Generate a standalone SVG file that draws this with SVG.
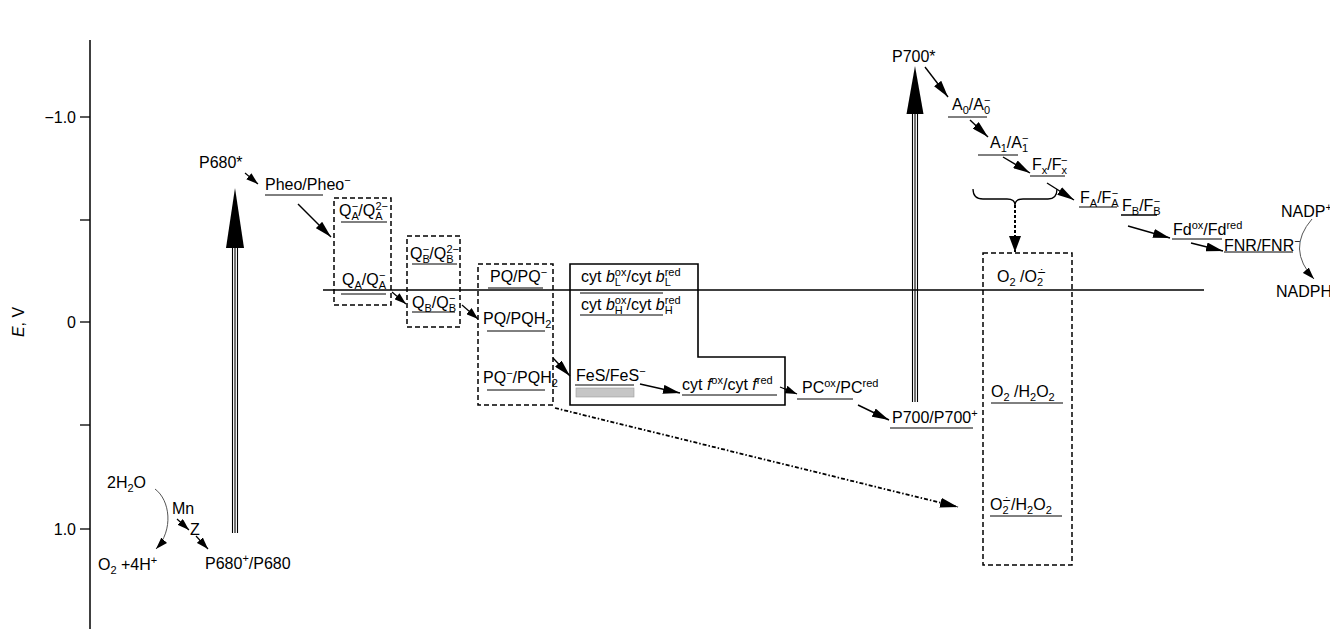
<svg xmlns="http://www.w3.org/2000/svg" width="1330" height="629" viewBox="0 0 1330 629">
<defs>
<style>
text{font-family:"Liberation Sans",Arial,sans-serif;font-size:16px;fill:#000}
.s{font-size:11px}
.ul{stroke:#000;stroke-width:1;fill:none}
.ar{stroke:#000;stroke-width:1.4;fill:none;marker-end:url(#ah)}
.ars{stroke:#000;stroke-width:1.2;fill:none;marker-end:url(#ahs)}
.db{fill:none;stroke:#000;stroke-width:1.5;stroke-dasharray:5 3}
.tri{stroke:#000;stroke-width:1.1}
</style>
<marker id="ah" viewBox="0 0 17 9" refX="17" refY="4.5" markerWidth="17" markerHeight="9" orient="auto" markerUnits="userSpaceOnUse"><path d="M0,0 L17,4.5 L0,9 Z" fill="#000"/></marker>
<marker id="ahs" viewBox="0 0 12 8" refX="12" refY="4" markerWidth="12" markerHeight="8" orient="auto" markerUnits="userSpaceOnUse"><path d="M0,0 L12,4 L0,8 Z" fill="#000"/></marker>
<marker id="ahd" viewBox="0 0 18 10" refX="18" refY="5" markerWidth="18" markerHeight="10" orient="auto" markerUnits="userSpaceOnUse"><path d="M0,0 L18,5 L0,10 Z" fill="#000"/></marker>
<marker id="ahv" viewBox="0 0 16 12" refX="16" refY="6" markerWidth="16" markerHeight="12" orient="auto" markerUnits="userSpaceOnUse"><path d="M0,0 L16,6 L0,12 Z" fill="#000"/></marker>
</defs>
<rect width="1330" height="629" fill="#fff"/>

<g id="axis">
<line x1="90" y1="40" x2="90" y2="629" stroke="#000" stroke-width="1.5"/>
<g stroke="#000" stroke-width="1.3">
<line x1="80" y1="117" x2="90" y2="117"/>
<line x1="80" y1="220" x2="90" y2="220"/>
<line x1="80" y1="322" x2="90" y2="322"/>
<line x1="80" y1="425" x2="90" y2="425"/>
<line x1="80" y1="529" x2="90" y2="529"/>
</g>
<text x="76" y="123" text-anchor="end" font-size="17">−1.0</text>
<text x="76" y="328" text-anchor="end" font-size="17">0</text>
<text x="76" y="535" text-anchor="end" font-size="17">1.0</text>
<text transform="translate(24,322) rotate(-90)" text-anchor="middle" font-size="17"><tspan font-style="italic">E</tspan>, V</text>
</g>

<g id="midline"><line x1="323" y1="290" x2="1204" y2="290" stroke="#000" stroke-width="1.5"/></g>

<g id="p680-light">
<g class="tri"><line x1="232.5" y1="246" x2="232.5" y2="533"/><line x1="235" y1="246" x2="235" y2="533"/><line x1="237.5" y1="246" x2="237.5" y2="533"/></g>
<polygon points="235,188 226,248 244,248" fill="#000"/>
</g>
<g id="p700-light">
<g class="tri"><line x1="912.5" y1="112" x2="912.5" y2="402"/><line x1="915" y1="112" x2="915" y2="402"/><line x1="917.5" y1="112" x2="917.5" y2="402"/></g>
<polygon points="915,66 906.5,114 923.5,114" fill="#000"/>
</g>

<g id="p680star"><text x="199" y="168" font-size="18">P680*</text></g>
<g id="pheo"><text x="265" y="190" font-size="17">Pheo/Pheo<tspan class="s" dy="-6">−</tspan></text><line class="ul" x1="265" y1="195" x2="323" y2="195"/></g>

<g id="qa">
<rect class="db" x="334" y="198" width="57" height="107"/>
<text x="339" y="216" font-size="15">Q<tspan class="s" dy="4">A</tspan><tspan class="s" dx="-7" dy="-10">−</tspan><tspan dy="6">/Q</tspan><tspan class="s" dy="4">A</tspan><tspan class="s" dx="-7" dy="-10">2−</tspan></text>
<line class="ul" x1="341" y1="222" x2="387" y2="222"/>
<text x="342" y="285" font-size="15">Q<tspan class="s" dy="4">A</tspan><tspan dy="-4">/Q</tspan><tspan class="s" dy="4">A</tspan><tspan class="s" dx="-7" dy="-10">−</tspan></text>
<line class="ul" x1="341" y1="294" x2="386" y2="294"/>
</g>

<g id="qb">
<rect class="db" x="407" y="236" width="53" height="91" stroke-width="2.2"/>
<text x="410" y="259" font-size="15">Q<tspan class="s" dy="4">B</tspan><tspan class="s" dx="-7" dy="-10">−</tspan><tspan dy="6">/Q</tspan><tspan class="s" dy="4">B</tspan><tspan class="s" dx="-7" dy="-10">2−</tspan></text>
<line class="ul" x1="412" y1="264" x2="457" y2="264"/>
<text x="412" y="308" font-size="15">Q<tspan class="s" dy="4">B</tspan><tspan dy="-4">/Q</tspan><tspan class="s" dy="4">B</tspan><tspan class="s" dx="-7" dy="-10">−</tspan></text>
<line class="ul" x1="412" y1="312" x2="455" y2="312"/>
</g>

<g id="pq">
<rect class="db" x="478" y="264" width="75" height="141"/>
<text x="490" y="282" font-size="15">PQ/PQ<tspan class="s" dy="-6">−</tspan></text>
<line class="ul" x1="488" y1="288" x2="543" y2="288"/>
<text x="483" y="324" font-size="15">PQ/PQH<tspan class="s" dy="4">2</tspan></text>
<line class="ul" x1="487" y1="331" x2="545" y2="331"/>
<text x="483" y="383" font-size="15">PQ<tspan class="s" dy="-6">−</tspan><tspan dy="6">/PQH</tspan><tspan class="s" dy="4">2</tspan></text>
<line class="ul" x1="487" y1="390" x2="545" y2="390"/>
</g>

<g id="cytb6f">
<path d="M570,264 H698 V357 H785 V405 H570 Z" fill="none" stroke="#000" stroke-width="1.6"/>
<text x="581" y="282" font-size="16">cyt <tspan font-style="italic">b</tspan><tspan class="s" dy="-6">ox</tspan><tspan class="s" dx="-11.6" dy="10">L</tspan><tspan dx="5.5" dy="-4">/cyt </tspan><tspan font-style="italic">b</tspan><tspan class="s" dy="-6">red</tspan><tspan class="s" dx="-15.9" dy="10">L</tspan></text>
<line class="ul" x1="580" y1="293" x2="663" y2="293"/>
<text x="581" y="310" font-size="16">cyt <tspan font-style="italic">b</tspan><tspan class="s" dy="-6">ox</tspan><tspan class="s" dx="-11.6" dy="10">H</tspan><tspan dx="3.7" dy="-4">/cyt </tspan><tspan font-style="italic">b</tspan><tspan class="s" dy="-6">red</tspan><tspan class="s" dx="-15.9" dy="10">H</tspan></text>
<line class="ul" x1="580" y1="315" x2="663" y2="315"/>
<text x="576" y="381" font-size="15">FeS/FeS<tspan class="s" dy="-6">−</tspan></text>
<line class="ul" x1="575" y1="385" x2="634" y2="385"/>
<rect x="576" y="388" width="58" height="9" fill="#c6c6c6" stroke="#9a9a9a" stroke-width="0.6"/>
<text x="682" y="390" font-size="17">cyt <tspan font-style="italic">f</tspan><tspan class="s" dy="-6">ox</tspan><tspan dy="6">/cyt </tspan><tspan font-style="italic">f</tspan><tspan class="s" dy="-6">red</tspan></text>
<line class="ul" x1="682" y1="395" x2="777" y2="395"/>
</g>

<g id="pc"><text x="802" y="393" font-size="16">PC<tspan class="s" dy="-6">ox</tspan><tspan dy="6">/PC</tspan><tspan class="s" dy="-6">red</tspan></text><line class="ul" x1="797" y1="399" x2="853" y2="399"/></g>
<g id="p700"><text x="892" y="423" font-size="15">P700/P700<tspan class="s" dy="-6">+</tspan></text><line class="ul" x1="890" y1="428" x2="973" y2="428"/></g>
<g id="p700star"><text x="892" y="62" font-size="18">P700*</text></g>
<g id="a0"><text x="952" y="110" font-size="15">A<tspan class="s" dy="4">0</tspan><tspan dy="-4">/A</tspan><tspan class="s" dy="4">0</tspan><tspan class="s" dx="-6" dy="-10">−</tspan></text><line class="ul" x1="948" y1="117" x2="987" y2="117"/></g>
<g id="a1"><text x="990" y="148" font-size="15">A<tspan class="s" dy="4">1</tspan><tspan dy="-4">/A</tspan><tspan class="s" dy="4">1</tspan><tspan class="s" dx="-6" dy="-10">−</tspan></text><line class="ul" x1="978" y1="155" x2="1018" y2="155"/></g>
<g id="fx"><text x="1032" y="170" font-size="15">F<tspan class="s" dy="4">x</tspan><tspan dy="-4">/F</tspan><tspan class="s" dy="4">x</tspan><tspan class="s" dx="-6" dy="-10">−</tspan></text><line class="ul" x1="1030" y1="176" x2="1065" y2="176"/></g>
<g id="fa"><text x="1080" y="203" font-size="15">F<tspan class="s" dy="4">A</tspan><tspan dy="-4">/F</tspan><tspan class="s" dy="4">A</tspan><tspan class="s" dx="-7" dy="-10">−</tspan></text><line class="ul" x1="1079" y1="207" x2="1117" y2="207"/></g>
<g id="fb"><text x="1122" y="211" font-size="15">F<tspan class="s" dy="4">B</tspan><tspan dy="-4">/F</tspan><tspan class="s" dy="4">B</tspan><tspan class="s" dx="-7" dy="-10">−</tspan></text><line x1="1121" y1="215" x2="1157" y2="215" stroke="#000" stroke-width="1.5"/></g>
<g id="fd"><text x="1173" y="235" font-size="15">Fd<tspan class="s" dy="-6">ox</tspan><tspan dy="6">/Fd</tspan><tspan class="s" dy="-6">red</tspan></text><line class="ul" x1="1172" y1="239" x2="1222" y2="239"/></g>
<g id="fnr"><text x="1224" y="251" font-size="15">FNR/FNR<tspan class="s" dy="-6">−</tspan></text><line class="ul" x1="1224" y1="252" x2="1293" y2="252"/></g>
<g id="nadp"><text x="1281" y="217" font-size="15">NADP<tspan class="s" dy="-6">+</tspan></text></g>
<g id="nadph"><text x="1276" y="297" font-size="15">NADPH</text></g>

<g id="oxygen">
<rect class="db" x="983" y="253" width="89" height="312"/>
<text x="997" y="282" font-size="17">O<tspan class="s" dy="4">2</tspan><tspan dy="-4"> /O</tspan><tspan class="s" dy="4">2</tspan><tspan class="s" dx="-6.5" dy="-10">∸</tspan></text>
<text x="991" y="397" font-size="17">O<tspan class="s" dy="4">2</tspan><tspan dy="-4"> /H</tspan><tspan class="s" dy="4">2</tspan><tspan dy="-4">O</tspan><tspan class="s" dy="4">2</tspan></text>
<line class="ul" x1="991" y1="403" x2="1063" y2="403"/>
<text x="990" y="510" font-size="17">O<tspan class="s" dy="4">2</tspan><tspan class="s" dx="-6.5" dy="-10">∸</tspan><tspan dy="6">/H</tspan><tspan class="s" dy="4">2</tspan><tspan dy="-4">O</tspan><tspan class="s" dy="4">2</tspan></text>
<line class="ul" x1="990" y1="516" x2="1062" y2="516"/>
</g>

<g id="water">
<text x="107" y="488" font-size="17">2H<tspan class="s" dy="4">2</tspan><tspan dy="-4">O</tspan></text>
<text x="98" y="570" font-size="18">O<tspan class="s" dy="4">2</tspan><tspan dy="-4"> +4H</tspan><tspan class="s" dy="-6">+</tspan></text>
</g>
<g id="mn"><text x="172" y="514" font-size="17">Mn</text></g>
<g id="z"><text x="190" y="535" font-size="17">Z</text></g>
<g id="p680"><text x="205" y="569" font-size="19">P680<tspan class="s" dy="-7">+</tspan><tspan dy="7">/P680</tspan></text></g>

<g id="connectors">
<line class="ars" x1="245" y1="173" x2="258" y2="184"/>
<line class="ar" x1="298" y1="204" x2="331" y2="237"/>
<line class="ars" x1="392" y1="292" x2="406" y2="304"/>
<line class="ars" x1="462" y1="305" x2="478" y2="319"/>
<line class="ar" x1="553" y1="358" x2="570" y2="376"/>
<line class="ar" x1="640" y1="384" x2="680" y2="393"/>
<line class="ars" x1="780" y1="387" x2="797" y2="394"/>
<line class="ar" x1="858" y1="405" x2="889" y2="420"/>
<line class="ar" x1="925" y1="67" x2="948" y2="97"/>
<line class="ar" x1="970" y1="120" x2="988" y2="137"/>
<line class="ar" x1="1003" y1="157" x2="1030" y2="173"/>
<line class="ar" x1="1047" y1="183" x2="1074" y2="200"/>
<line class="ar" x1="1128" y1="226" x2="1170" y2="238"/>
<line class="ar" x1="1191" y1="243" x2="1223" y2="251"/>
<line class="ars" x1="177" y1="519" x2="189" y2="530"/>
<line class="ars" x1="196" y1="536" x2="208" y2="549"/>
<path d="M155,489 C170,500 174,530 156,549" fill="none" stroke="#555" stroke-width="1" marker-end="url(#ahs)"/>
<path d="M1312,219 Q1286,249 1314,279" fill="none" stroke="#555" stroke-width="1" marker-end="url(#ahs)"/>
<line x1="555" y1="408" x2="958" y2="507" stroke="#000" stroke-width="1.8" stroke-dasharray="4 2 1.5 2" marker-end="url(#ahd)"/>
<path d="M973,189 Q973,199 983,199 L1007,199 Q1015,199 1015,205 Q1015,199 1023,199 L1048,199 Q1057,199 1057,189" fill="none" stroke="#000" stroke-width="1.3"/>
<line x1="1015" y1="205" x2="1015" y2="252" stroke="#000" stroke-width="2" stroke-dasharray="3 2" marker-end="url(#ahv)"/>
</g>
</svg>
